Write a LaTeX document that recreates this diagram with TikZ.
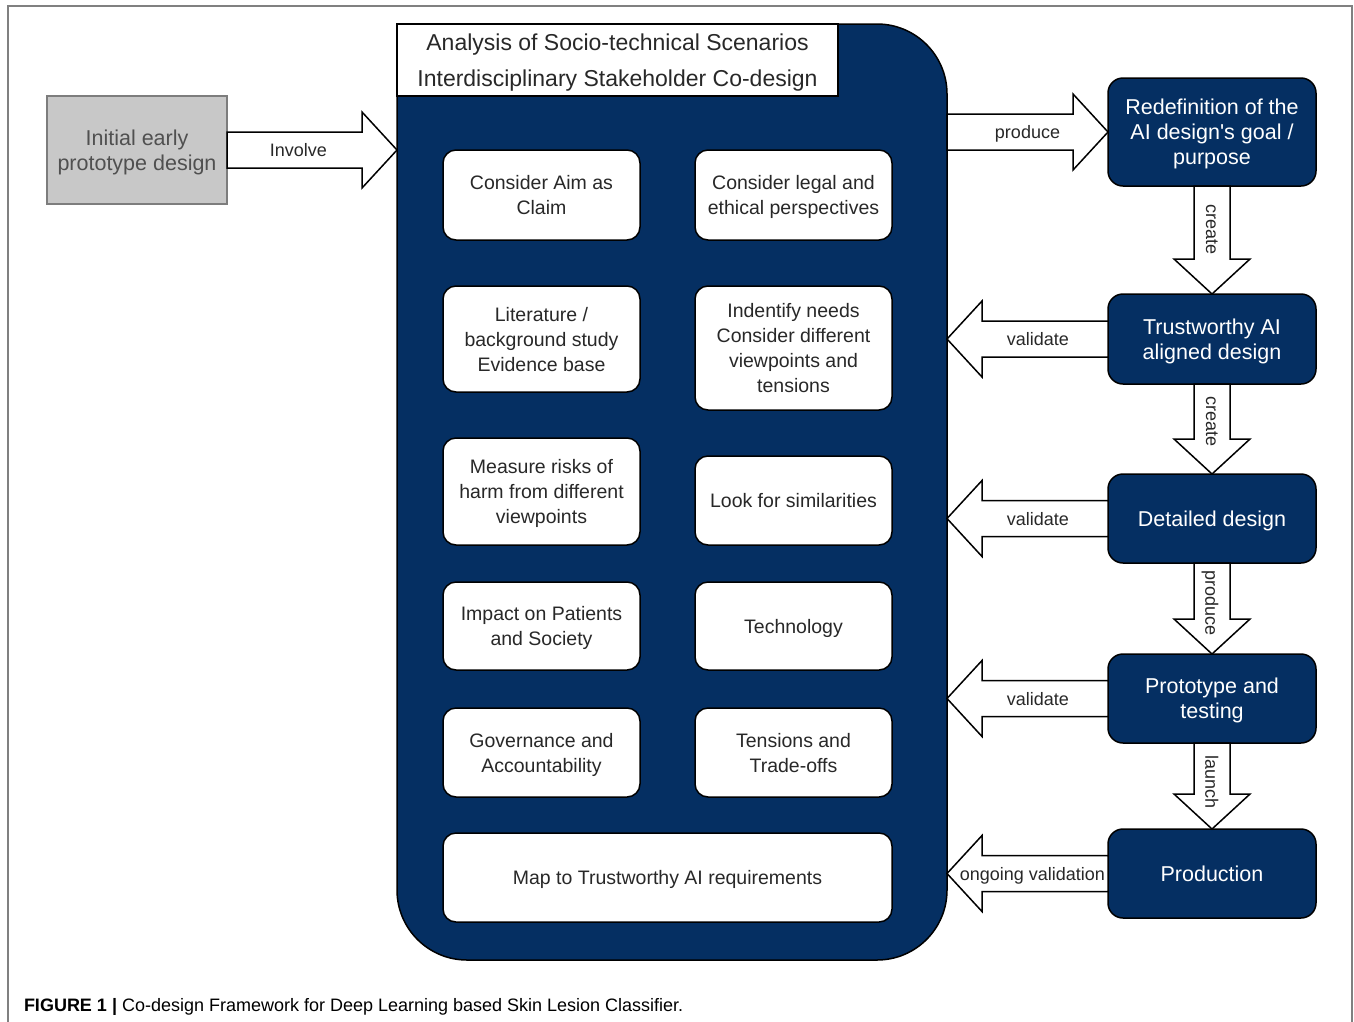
\documentclass[tikz,border=0pt]{standalone}
\usepackage{fontspec}
\setmainfont{Liberation Sans}[Ligatures=TeXOff]
\usetikzlibrary{calc}
\definecolor{navy}{RGB}{5,47,98}
\definecolor{txtgray}{RGB}{40,40,40}
\definecolor{initfill}{RGB}{200,200,200}
\definecolor{initdraw}{RGB}{125,125,125}
\definecolor{initText}{RGB}{80,80,80}
\definecolor{framegray}{RGB}{128,128,128}
\newcommand\rarrow[2]{\draw[barrow] ($(#1)+(0,-18)$) -- ($(#2)+(-35,-18)$) -- ($(#2)+(-35,-38)$) -- (#2) -- ($(#2)+(-35,38)$) -- ($(#2)+(-35,18)$) -- ($(#1)+(0,18)$) -- cycle;}
\newcommand\larrow[2]{\draw[barrow] ($(#1)+(0,-18)$) -- ($(#2)+(35,-18)$) -- ($(#2)+(35,-38)$) -- (#2) -- ($(#2)+(35,38)$) -- ($(#2)+(35,18)$) -- ($(#1)+(0,18)$) -- cycle;}
\newcommand\darrow[2]{\draw[barrow] ($(#1)+(-18,0)$) -- ($(#2)+(-18,-35)$) -- ($(#2)+(-38,-35)$) -- (#2) -- ($(#2)+(38,-35)$) -- ($(#2)+(18,-35)$) -- ($(#1)+(18,0)$) -- cycle;}
\begin{document}
\begin{tikzpicture}[x=1pt,y=-1pt,
  every node/.style={outer sep=0pt, text depth=-1pt},
  inbox/.style={draw=black, line width=1.5pt, fill=white, rounded corners=13pt,
    minimum width=197pt, text=txtgray, inner sep=0pt, align=center,
    font=\fontsize{19.5}{25}\selectfont},
  stage/.style={draw=black, line width=1.5pt, fill=navy, rounded corners=15pt,
    minimum width=208pt, text=white, inner sep=0pt, align=center,
    font=\fontsize{21.5}{25}\selectfont},
  barrow/.style={draw=black, line width=1.5pt, fill=white, line join=miter},
  alabel/.style={text=txtgray, inner sep=0pt, font=\fontsize{18}{20}\selectfont},
  vlabel/.style={alabel, rotate=-90}]
\useasboundingbox (0,0) rectangle (1354,1021);
\fill[white] (0,0) rectangle (1354,1021);
\draw[framegray, line width=1.2pt] (8,1040) -- (8,6) -- (1352,6) -- (1352,1040);

% left box
\node[draw=initdraw, line width=1.8pt, fill=initfill, minimum width=180pt, minimum height=108pt,
  text=initText, align=center, font=\fontsize{21.5}{25}\selectfont] (init) at (137,150)
  {Initial early\\prototype design};

% container
\node[draw=black, line width=1.5pt, fill=navy, rounded corners=70pt,
  minimum width=550pt, minimum height=936pt] (cont) at (672,492) {};
\node[draw=black, line width=1.5pt, fill=white, minimum width=441pt, minimum height=72pt,
  text=txtgray, align=center, inner sep=0pt, font=\fontsize{23}{36}\selectfont] (head) at (617.5,60)
  {Analysis of Socio-technical Scenarios\\Interdisciplinary Stakeholder Co-design};

% inner boxes
\node[inbox, minimum height=90pt] (aim) at (541.5,195) {Consider Aim as\\Claim};
\node[inbox, minimum height=90pt] (legal) at (793.5,195) {Consider legal and\\ethical perspectives};
\node[inbox, minimum height=106pt] (lit) at (541.5,339) {Literature /\\background study\\Evidence base};
\node[inbox, minimum height=124pt] (needs) at (793.5,348) {Indentify needs\\Consider different\\viewpoints and\\tensions};
\node[inbox, minimum height=107pt] (risk) at (541.5,491.5) {Measure risks of\\harm from different\\viewpoints};
\node[inbox, minimum height=89pt] (sim) at (793.5,500.5) {Look for similarities};
\node[inbox, minimum height=88pt] (impact) at (541.5,626) {Impact on Patients\\and Society};
\node[inbox, minimum height=88pt] (tech) at (793.5,626) {Technology};
\node[inbox, minimum height=89pt] (gov) at (541.5,752.5) {Governance and\\Accountability};
\node[inbox, minimum height=89pt] (tens) at (793.5,752.5) {Tensions and\\Trade-offs};
\node[inbox, minimum height=89pt, minimum width=449pt] (map) at (667.5,877.5) {Map to Trustworthy AI requirements};

% stages
\node[stage, minimum height=108pt] (red) at (1212,132) {Redefinition of the\\AI design's goal /\\purpose};
\node[stage, minimum height=90pt] (tw) at (1212,339) {Trustworthy AI\\aligned design};
\node[stage, minimum height=89pt] (det) at (1212,518.5) {Detailed design};
\node[stage, minimum height=89pt] (proto) at (1212,698.5) {Prototype and\\testing};
\node[stage, minimum height=89pt] (prod) at (1212,873.5) {Production};

% horizontal arrows
\coordinate (invT) at (cont.west |- init.east);
\rarrow{init.east}{invT}
\path ($(init.east)!0.42!(invT)$) node[alabel] (linv) {Involve};

\coordinate (prodS) at (cont.east |- red.west);
\rarrow{prodS}{red.west}
\path ($(prodS)!0.5!(red.west)$) node[alabel] (lprod) {produce};

\coordinate (v1T) at (cont.east |- tw.west);
\larrow{tw.west}{v1T}
\path ($(tw.west)!0.435!(v1T)$) node[alabel] (lv1) {validate};

\coordinate (v2T) at (cont.east |- det.west);
\larrow{det.west}{v2T}
\path ($(det.west)!0.435!(v2T)$) node[alabel] (lv2) {validate};

\coordinate (v3T) at (cont.east |- proto.west);
\larrow{proto.west}{v3T}
\path ($(proto.west)!0.435!(v3T)$) node[alabel] (lv3) {validate};

\coordinate (v4T) at (cont.east |- prod.west);
\larrow{prod.west}{v4T}
\path ($(prod.west)!0.47!(v4T)$) node[alabel] (lv4) {ongoing validation};

% vertical arrows
\darrow{red.south}{tw.north}
\path ($(red.south)!0.40!(tw.north)$) node[vlabel, text depth=0pt] (lc1) {create};
\darrow{tw.south}{det.north}
\path ($(tw.south)!0.42!(det.north)$) node[vlabel, text depth=0pt] (lc2) {create};
\darrow{det.south}{proto.north}
\path ($(det.south)!0.44!(proto.north)$) node[vlabel, text depth=0pt] (lc3) {produce};
\darrow{proto.south}{prod.north}
\path ($(proto.south)!0.45!(prod.north)$) node[vlabel, text depth=0pt] (lc4) {launch};

% caption
\node[anchor=base west, inner sep=0pt, font=\fontsize{18}{20}\selectfont] (cap) at (24,1011)
  {\textbf{FIGURE 1 |} Co-design Framework for Deep Learning based Skin Lesion Classifier.};
\end{tikzpicture}
\end{document}
